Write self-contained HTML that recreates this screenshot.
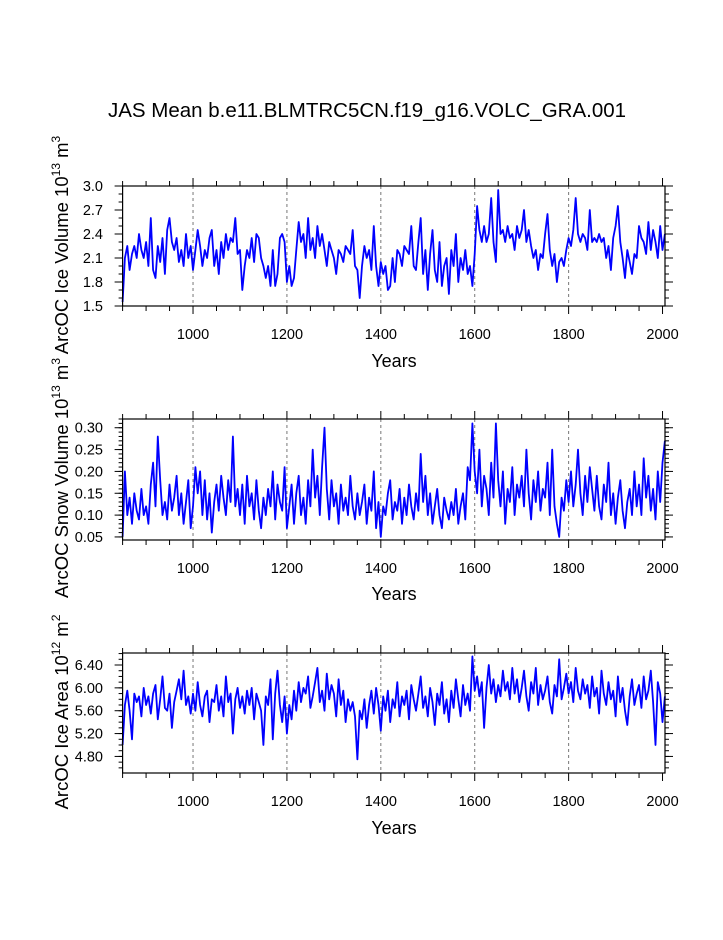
<!DOCTYPE html>
<html><head><meta charset="utf-8"><style>
html,body{margin:0;padding:0;background:#fff;}
svg text{font-family:"Liberation Sans",Arial,sans-serif;fill:#000;}
</style></head><body>
<svg id="chart" width="723" height="935" viewBox="0 0 723 935" xmlns="http://www.w3.org/2000/svg">
<text x="367" y="117" font-size="20.5" text-anchor="middle">JAS Mean b.e11.BLMTRC5CN.f19_g16.VOLC_GRA.001</text>
</svg>
<script>
const startYear = 850;
const stepYears = 5;
const xTicks = [1000, 1200, 1400, 1600, 1800, 2000];
const iceVolume = [1.55,2.1,2.25,1.95,2.15,2.25,2.1,2.4,2.2,2.1,2.3,2.0,2.6,1.95,1.85,2.25,2.05,2.35,1.9,2.45,
2.6,2.3,2.2,2.35,2.05,2.2,2.0,2.4,2.1,2.25,1.95,2.2,2.45,2.25,2.0,2.2,2.1,2.35,2.45,2.0,
2.2,1.9,2.3,2.1,2.4,2.2,2.35,2.3,2.6,2.15,2.2,1.7,2.0,2.2,2.1,2.35,2.05,2.4,2.35,2.1,
2.0,1.85,2.0,1.75,2.2,1.75,1.9,2.35,2.4,2.3,1.8,2.0,1.75,1.85,2.2,2.55,2.3,2.4,2.1,2.6,
2.2,2.35,2.1,2.5,2.25,2.4,2.2,2.0,2.3,2.2,2.1,1.9,2.2,2.15,2.05,2.25,2.2,2.15,2.45,2.0,
1.95,1.6,2.0,2.25,2.1,2.2,1.95,2.5,2.0,1.75,2.05,1.9,2.0,1.7,1.75,2.1,1.8,2.2,2.15,2.0,
2.25,2.2,2.15,2.5,2.0,1.95,2.3,2.6,1.9,2.2,1.7,2.15,2.45,1.95,1.8,2.3,1.75,2.0,2.1,1.65,
2.2,2.0,2.4,1.8,2.1,1.95,2.2,1.9,2.0,1.75,2.15,2.75,2.45,2.3,2.5,2.3,2.4,2.85,2.3,2.05,
2.95,2.4,2.45,2.3,2.5,2.35,2.4,2.2,2.5,2.35,2.45,2.7,2.3,2.45,2.25,2.1,2.2,1.95,2.15,2.1,
2.4,2.65,2.2,2.0,2.15,1.8,2.05,2.1,2.0,2.2,2.35,2.25,2.45,2.85,2.4,2.3,2.4,2.35,2.2,2.7,
2.3,2.35,2.3,2.4,2.3,2.35,2.1,2.25,1.95,2.35,2.5,2.75,2.3,2.1,1.85,2.2,2.05,1.9,2.15,2.1,
2.5,2.35,2.3,2.15,2.55,2.2,2.45,2.3,2.1,2.5,2.2,2.4];
const snowVolume = [0.05,0.20,0.10,0.14,0.08,0.15,0.11,0.09,0.16,0.10,0.12,0.08,0.17,0.22,0.12,0.28,0.18,0.10,0.13,0.09,
0.17,0.11,0.14,0.19,0.10,0.15,0.08,0.13,0.18,0.07,0.12,0.21,0.15,0.20,0.10,0.18,0.09,0.15,0.06,0.13,
0.17,0.11,0.19,0.14,0.10,0.18,0.13,0.28,0.12,0.16,0.10,0.17,0.08,0.19,0.12,0.15,0.09,0.18,0.11,0.07,
0.14,0.10,0.16,0.12,0.20,0.09,0.17,0.13,0.11,0.21,0.07,0.12,0.17,0.08,0.15,0.19,0.10,0.14,0.08,0.18,
0.12,0.25,0.14,0.19,0.10,0.21,0.30,0.16,0.09,0.18,0.12,0.15,0.08,0.17,0.11,0.14,0.10,0.19,0.12,0.09,
0.15,0.10,0.13,0.17,0.08,0.14,0.11,0.20,0.07,0.13,0.05,0.12,0.10,0.15,0.18,0.09,0.13,0.11,0.16,0.08,
0.14,0.10,0.17,0.12,0.09,0.15,0.11,0.24,0.13,0.19,0.10,0.15,0.08,0.12,0.16,0.10,0.07,0.14,0.11,0.09,
0.13,0.10,0.16,0.08,0.12,0.15,0.09,0.21,0.18,0.31,0.20,0.15,0.25,0.12,0.19,0.16,0.10,0.22,0.14,0.31,
0.18,0.12,0.20,0.08,0.16,0.13,0.21,0.10,0.17,0.14,0.19,0.12,0.25,0.15,0.09,0.18,0.13,0.20,0.11,0.16,
0.14,0.22,0.10,0.25,0.12,0.08,0.05,0.14,0.11,0.18,0.13,0.20,0.12,0.17,0.25,0.15,0.10,0.19,0.13,0.21,
0.16,0.11,0.19,0.12,0.09,0.17,0.13,0.22,0.10,0.15,0.08,0.14,0.18,0.11,0.07,0.13,0.16,0.10,0.20,0.12,
0.17,0.10,0.23,0.14,0.19,0.11,0.16,0.09,0.20,0.13,0.22,0.27];
const iceArea = [5.0,5.7,5.95,5.6,5.1,5.9,5.75,5.85,5.5,6.0,5.7,5.85,5.55,5.9,6.05,5.45,5.8,6.2,5.65,5.6,
5.9,5.3,5.75,5.95,6.15,5.8,6.3,5.7,5.85,5.55,5.9,5.6,6.1,5.7,5.5,5.85,5.95,5.4,5.8,5.75,
6.05,5.6,5.85,5.5,6.2,5.75,5.9,5.2,5.8,6.0,5.65,5.85,5.55,5.95,5.7,6.0,5.45,5.9,5.75,5.6,
5.0,5.85,5.7,6.15,5.1,5.9,6.3,5.7,5.4,5.85,5.2,5.7,5.45,5.95,5.6,6.1,5.75,6.0,5.9,6.2,
5.65,5.85,6.1,6.35,5.75,5.95,5.6,6.25,5.8,6.05,5.9,5.5,6.15,5.7,5.95,5.4,5.8,5.6,5.75,5.5,
4.75,5.6,5.45,5.8,5.3,5.7,5.95,5.55,6.0,5.7,5.25,5.85,5.6,5.95,5.4,5.8,5.65,6.1,5.5,5.85,
5.7,5.95,5.45,6.05,5.8,5.6,5.9,6.2,5.65,5.85,5.5,6.0,5.75,5.35,5.9,5.7,6.1,5.55,5.8,5.4,
5.95,5.65,6.15,5.8,5.5,6.05,5.7,5.9,5.6,6.55,5.95,6.2,5.85,6.1,5.3,6.0,6.4,5.9,6.15,5.75,
6.05,5.85,6.3,5.95,6.1,5.8,6.35,5.9,6.15,5.75,6.0,6.3,5.85,5.6,6.1,5.9,6.35,5.7,6.05,5.8,
5.95,6.2,5.75,5.55,6.05,5.85,6.5,5.8,6.0,6.25,5.9,6.1,5.75,6.35,5.95,5.8,6.15,5.9,6.05,5.65,
6.2,5.85,6.0,5.55,6.3,5.9,5.7,6.1,5.8,5.95,5.5,6.2,5.75,6.0,5.6,5.35,5.85,6.15,5.7,5.9,
6.05,5.65,6.2,5.8,5.95,6.3,5.75,5.0,6.1,5.9,5.4,5.85];
const yTicks1 = ["1.5","1.8","2.1","2.4","2.7","3.0"];
const yTicks2 = ["0.05","0.10","0.15","0.20","0.25","0.30"];
const yTicks3 = ["4.80","5.20","5.60","6.00","6.40"];

const svg = document.getElementById('chart');
const NS = 'http://www.w3.org/2000/svg';
const X0 = 122.6, PX_PER_YR = 0.4695, XR = 665;
function xs(yr){ return X0 + (yr - 850) * PX_PER_YR; }
function mk(tag, attrs){ const e = document.createElementNS(NS, tag); for (const k in attrs) e.setAttribute(k, attrs[k]); svg.appendChild(e); return e; }

const panels = [
 {key:'ice-volume', data:iceVolume, top:186, bot:306, lo:1.5, hi:3.0, ticks:yTicks1, minor:0.1, yearsY:367, title:['ArcOC Ice Volume 10','13',' m','3'], ty:245},
 {key:'snow-volume', data:snowVolume, top:419, bot:540, lo:0.043, hi:0.32, ticks:yTicks2, minor:0.01, yearsY:600, title:['ArcOC Snow Volume 10','13',' m','3'], ty:478},
 {key:'ice-area', data:iceArea, top:653, bot:773, lo:4.51, hi:6.61, ticks:yTicks3, minor:0.1, yearsY:834, title:['ArcOC Ice Area 10','12',' m','2'], ty:712}
];

panels.forEach(function(p){
  const ys = v => p.bot - (v - p.lo) / (p.hi - p.lo) * (p.bot - p.top);
  xTicks.slice(0,5).forEach(function(yr){
    const g = mk('line',{x1:xs(yr),x2:xs(yr),y1:p.top,y2:p.bot,stroke:'#777','stroke-width':1,'stroke-dasharray':'3,3'});
    
    
  });
  let d = '';
  p.data.forEach(function(v,i){ const yr = startYear + i*stepYears; d += (i? 'L':'M') + xs(yr).toFixed(1) + ',' + ys(v).toFixed(1); });
  const line = mk('path',{d:d,fill:'none',stroke:'#0000ff','stroke-width':1.8,'stroke-linejoin':'round'});
  
  
  const fr = mk('rect',{x:X0,y:p.top,width:XR-X0,height:p.bot-p.top,fill:'none',stroke:'#000','stroke-width':1.2});
  
  
  for (let yr = 850; yr <= 2005; yr += 50){
    const major = yr % 200 === 0;
    const L = major ? 8 : 5;
    mk('line',{x1:xs(yr),x2:xs(yr),y1:p.bot,y2:p.bot+L,stroke:'#000','stroke-width':1});
    mk('line',{x1:xs(yr),x2:xs(yr),y1:p.top,y2:p.top-L,stroke:'#000','stroke-width':1});
  }
  xTicks.forEach(function(yr){
    const t = mk('text',{x:xs(yr),y:p.bot+33,'font-size':14.5,'text-anchor':'middle'});
    t.textContent = yr;
    
    
  });
  const xt = mk('text',{x:394,y:p.yearsY,'font-size':18,'text-anchor':'middle'});
  xt.textContent = 'Years';
  
  
  for (let v = Math.ceil(p.lo/p.minor)*p.minor; v <= p.hi + 1e-9; v += p.minor){
    mk('line',{x1:X0,x2:X0-4,y1:ys(v),y2:ys(v),stroke:'#000','stroke-width':1});
    mk('line',{x1:XR,x2:XR+4,y1:ys(v),y2:ys(v),stroke:'#000','stroke-width':1});
  }
  p.ticks.forEach(function(s){
    const v = parseFloat(s), y = ys(v);
    mk('line',{x1:X0,x2:X0-8,y1:y,y2:y,stroke:'#000','stroke-width':1});
    mk('line',{x1:XR,x2:XR+8,y1:y,y2:y,stroke:'#000','stroke-width':1});
    const t = mk('text',{x:103,y:y+5,'font-size':14.5,'text-anchor':'end'});
    t.textContent = s;
    
    
  });
  const yt = mk('text',{x:0,y:0,'font-size':18.5,'text-anchor':'middle',transform:'translate(68,'+p.ty+') rotate(-90)'});
  const a = document.createElementNS(NS,'tspan'); a.textContent = p.title[0]; yt.appendChild(a);
  const b = document.createElementNS(NS,'tspan'); b.textContent = p.title[1]; b.setAttribute('font-size','12'); b.setAttribute('dy','-8'); yt.appendChild(b);
  const c = document.createElementNS(NS,'tspan'); c.textContent = p.title[2]; c.setAttribute('dy','8'); yt.appendChild(c);
  const e = document.createElementNS(NS,'tspan'); e.textContent = p.title[3]; e.setAttribute('font-size','12'); e.setAttribute('dy','-8'); yt.appendChild(e);
  
  
});
</script>
</body></html>
